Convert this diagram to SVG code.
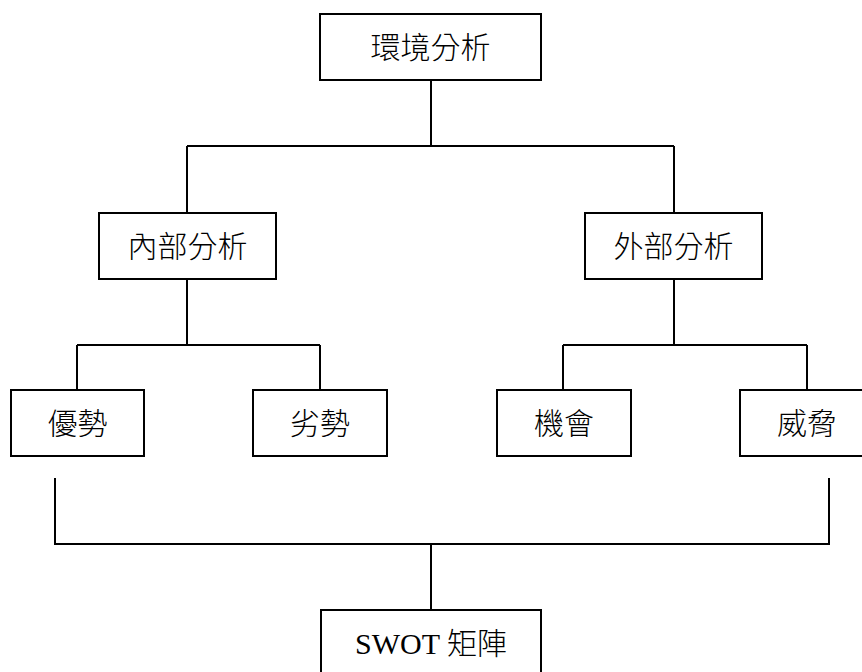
<svg xmlns="http://www.w3.org/2000/svg" width="862" height="672" viewBox="0 0 862 672">
<style>
.box{fill:#fff;stroke:#000;stroke-width:2}
.lbl{font-family:"Liberation Serif","Noto Sans CJK TC",serif;font-size:30px;font-weight:300;fill:#000;text-anchor:middle}
.con{fill:none;stroke:#000;stroke-width:2}
</style>
<rect width="862" height="672" fill="#fff"/>
<g id="connectors">
<path class="con" d="M431,80 V146 M187,146 H674 M187,146 V213 M674,146 V213"/>
<path class="con" d="M187,279 V345 M77,345 H320 M77,345 V390 M320,345 V390"/>
<path class="con" d="M674,279 V345 M563,345 H807 M563,345 V390 M807,345 V390"/>
<path class="con" d="M55,478 V544 H829 V478 M431,544 V610"/>
</g>
<g id="n-env"><rect class="box" x="320" y="14" width="221" height="66"/><text class="lbl" x="430.5" y="58">環境分析</text></g>
<g id="n-internal"><rect class="box" x="99" y="213" width="177" height="66"/><text class="lbl" x="187.5" y="257">內部分析</text></g>
<g id="n-external"><rect class="box" x="585" y="213" width="177" height="66"/><text class="lbl" x="673.5" y="257">外部分析</text></g>
<g id="n-s"><rect class="box" x="11" y="390" width="133" height="66"/><text class="lbl" x="77.5" y="434">優勢</text></g>
<g id="n-w"><rect class="box" x="253" y="390" width="134" height="66"/><text class="lbl" x="320" y="434">劣勢</text></g>
<g id="n-o"><rect class="box" x="497" y="390" width="134" height="66"/><text class="lbl" x="564" y="434">機會</text></g>
<g id="n-t"><rect class="box" x="740" y="390" width="134" height="66"/><text class="lbl" x="807" y="434">威脅</text></g>
<g id="n-swot"><rect class="box" x="321" y="610" width="220" height="80"/><text class="lbl" x="431" y="654">SWOT 矩陣</text></g>
</svg>
